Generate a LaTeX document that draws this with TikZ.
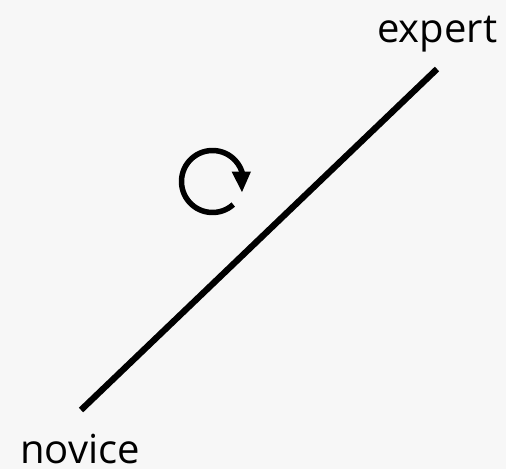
\documentclass[tikz,border=0pt]{standalone}
\usepackage{fontspec}
\setmainfont{Open Sans}
\tikzset{
  lbl/.style={inner sep=0pt, anchor=base west, font=\fontsize{40}{44}\selectfont},
  thick line/.style={line width=6.3pt, black},
  cycle line/.style={line width=5.5pt, black},
}
\begin{document}
\begin{tikzpicture}[x=1pt,y=-1pt]
\fill[black!3] (0,0) rectangle (506,469);
\useasboundingbox (0,0) rectangle (506,469);
\coordinate (lo) at (81,410);
\coordinate (hi) at (437,69);
\draw[thick line] (lo) -- (hi);
\node[lbl] (expert) at (377,42) {expert};
\node[lbl] (novice) at (20,463) {novice};
\coordinate (c) at (212.5,181.5);
\draw[cycle line] ([shift={(48:31)}]c) arc[start angle=48, end angle=346, radius=31];
\coordinate (b1) at (231.5,171.5);
\coordinate (b2) at (251,171.5);
\coordinate (tip) at (242,192);
\fill[black] (b1) -- (b2) -- (tip) -- cycle;
\end{tikzpicture}
\end{document}
